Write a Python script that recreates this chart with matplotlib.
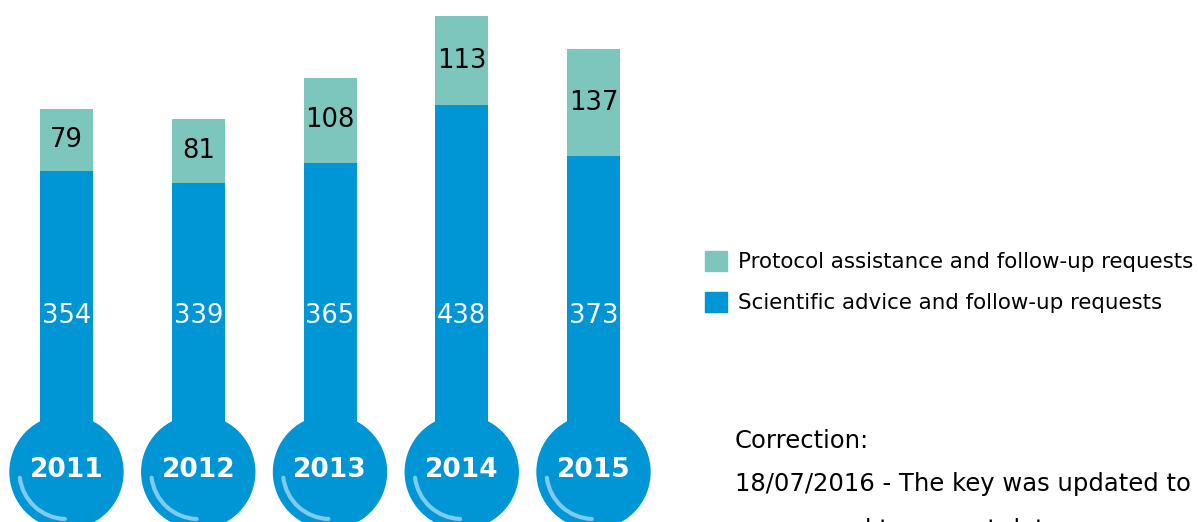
import matplotlib
matplotlib.use("Agg")
import matplotlib.pyplot as plt
from matplotlib.patches import Circle, Arc, Patch
from matplotlib.transforms import ScaledTranslation

years = ["2011", "2012", "2013", "2014", "2015"]
scientific = [354, 339, 365, 438, 373]
protocol = [79, 81, 108, 113, 137]

BLUE = "#0096d6"
TEAL = "#7dc6be"
ARC = "#7fcbee"

W, H, DPI = 1198, 522, 100
fig = plt.figure(figsize=(W / DPI, H / DPI), dpi=DPI)
ax = fig.add_axes([0, 0, 1, 1])
ax.set_axis_off()

# scale: 131.75 px per category, 0.787 px per request, baseline 72 px from bottom
px_x, px_y = 131.75, 0.787
ax.set_xlim(-66.5 / px_x, (W - 66.5) / px_x)
ax.set_ylim(-72 / px_y, (H - 72) / px_y)

x = list(range(len(years)))
bw = 53 / px_x
ax.bar(x, scientific, width=bw, color=BLUE, zorder=2)
ax.bar(x, protocol, width=bw, bottom=scientific, color=TEAL, zorder=2)

for i in x:
    # thermometer bulb, drawn in inches around the bar base
    off = ScaledTranslation(i, 0, ax.transData)
    tr = fig.dpi_scale_trans + off
    ax.add_patch(Circle((0, -0.22), 0.565, transform=tr, color=BLUE, zorder=3))
    ax.add_patch(Arc((0, -0.22), 0.94, 0.94, theta1=187, theta2=268, transform=tr,
                     color=ARC, lw=3, capstyle="round", zorder=4))
    ax.annotate(years[i], (i, 0), xytext=(0, -14.5), textcoords="offset points",
                ha="center", va="center", color="white", fontsize=19,
                fontweight="bold", zorder=5)
    ax.text(i, scientific[i] + protocol[i] / 2, str(protocol[i]), ha="center",
            va="center", fontsize=18.5, color="black", zorder=5)
    ax.text(i, 170, str(scientific[i]), ha="center", va="center", fontsize=18.5,
            color="white", zorder=5)

handles = [Patch(color=TEAL, label="Protocol assistance and follow-up requests"),
           Patch(color=BLUE, label="Scientific advice and follow-up requests")]
fig.legend(handles=handles, loc="upper left", bbox_to_anchor=(705 / W, 1 - 251 / H),
           frameon=False, fontsize=15.4, handlelength=1.05, handleheight=1.05,
           handletextpad=0.5, labelspacing=0.92, borderaxespad=0, borderpad=0)

fig.text(735 / W, 1 - 441 / H, "Correction:", fontsize=17.5, va="center")
fig.text(735 / W, 1 - 484 / H, "18/07/2016 - The key was updated to",
         fontsize=17.5, va="center")
# third line runs off the bottom edge, as in the original
fig.text(735 / W, 1 - 530 / H, "correspond to correct data.", fontsize=17.5,
         va="center")

fig.savefig("out.png", dpi=DPI)
